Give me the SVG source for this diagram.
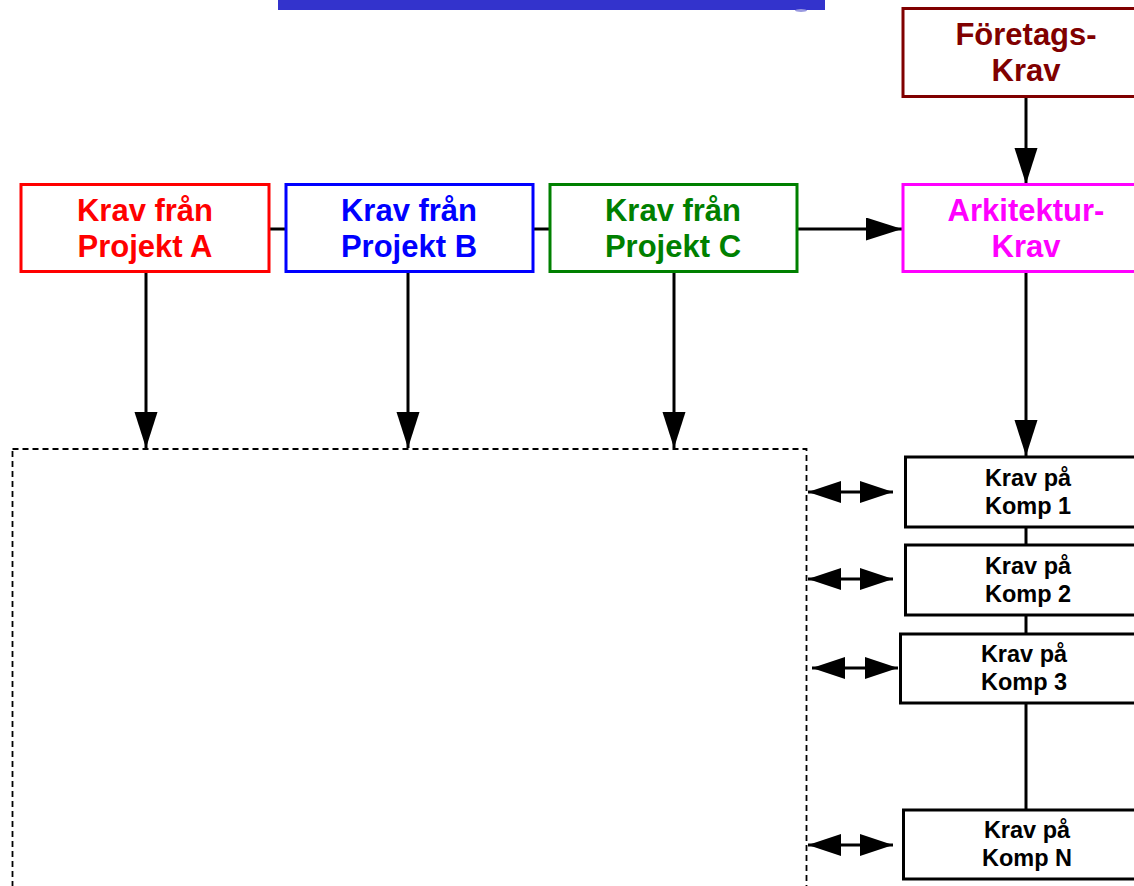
<svg xmlns="http://www.w3.org/2000/svg" width="1134" height="886" viewBox="0 0 1134 886">
  <style>
    .box { fill: #ffffff; stroke-width: 3; }
    .big { font-family: "Liberation Sans", Arial, sans-serif; font-weight: bold; font-size: 31px; text-anchor: middle; }
    .small { font-family: "Liberation Sans", Arial, sans-serif; font-weight: bold; font-size: 23.5px; text-anchor: middle; fill: #000000; }
    .conn { stroke: #000000; stroke-width: 3; fill: none; }
  </style>
  <defs>
    <marker id="head" markerUnits="userSpaceOnUse" markerWidth="40" markerHeight="30" refX="36" refY="11.5" orient="auto">
      <path d="M0,0 L36,11.5 L0,23 Z" fill="#000000"/>
    </marker>
    <marker id="headDbl" markerUnits="userSpaceOnUse" markerWidth="40" markerHeight="30" refX="33" refY="11" orient="auto-start-reverse">
      <path d="M0,0 L33,11 L0,22 Z" fill="#000000"/>
    </marker>
  </defs>

  <rect width="1134" height="886" fill="#ffffff"/>

  <!-- title underline -->
  <rect x="278" y="0" width="547" height="10" fill="#3333cc"/>
  <ellipse cx="801" cy="10.5" rx="6" ry="1.5" fill="#9999e0"/>

  <!-- connectors -->
  <g id="connectors">
    <line class="conn" x1="270" y1="229" x2="285" y2="229"/>
    <line class="conn" x1="533" y1="229" x2="549" y2="229"/>
    <line class="conn" x1="798" y1="229" x2="902" y2="229" marker-end="url(#head)"/>
    <line class="conn" x1="1026" y1="97" x2="1026" y2="184" marker-end="url(#head)"/>
    <line class="conn" x1="146" y1="272" x2="146" y2="448" marker-end="url(#head)"/>
    <line class="conn" x1="408" y1="272" x2="408" y2="448" marker-end="url(#head)"/>
    <line class="conn" x1="674" y1="272" x2="674" y2="448" marker-end="url(#head)"/>
    <line class="conn" x1="1026" y1="272" x2="1026" y2="456" marker-end="url(#head)"/>
    <line class="conn" x1="1026" y1="527" x2="1026" y2="545"/>
    <line class="conn" x1="1026" y1="615" x2="1026" y2="634"/>
    <line class="conn" x1="1026" y1="703" x2="1026" y2="810"/>
    <line class="conn" x1="808" y1="492" x2="893" y2="492" marker-start="url(#headDbl)" marker-end="url(#headDbl)"/>
    <line class="conn" x1="808" y1="579" x2="893" y2="579" marker-start="url(#headDbl)" marker-end="url(#headDbl)"/>
    <line class="conn" x1="812" y1="668" x2="898" y2="668" marker-start="url(#headDbl)" marker-end="url(#headDbl)"/>
    <line class="conn" x1="808" y1="845" x2="893" y2="845" marker-start="url(#headDbl)" marker-end="url(#headDbl)"/>
  </g>

  <!-- dashed region -->
  <g id="region">
    <rect x="12.5" y="449" width="794" height="460" fill="none" stroke="#000000" stroke-width="1.8" stroke-dasharray="6 4"/>
  </g>

  <g id="foretagskrav">
    <rect class="box" x="903" y="8.5" width="250" height="88" stroke="#800000"/>
    <text class="big" x="1026" y="45" fill="#800000">Företags-</text>
    <text class="big" x="1026" y="81" fill="#800000">Krav</text>
  </g>

  <g id="projektA">
    <rect class="box" x="21" y="184.5" width="248" height="87" stroke="#ff0000"/>
    <text class="big" x="145" y="221" fill="#ff0000">Krav från</text>
    <text class="big" x="145" y="257" fill="#ff0000">Projekt A</text>
  </g>

  <g id="projektB">
    <rect class="box" x="286" y="184.5" width="247" height="87" stroke="#0000ff"/>
    <text class="big" x="409" y="221" fill="#0000ff">Krav från</text>
    <text class="big" x="409" y="257" fill="#0000ff">Projekt B</text>
  </g>

  <g id="projektC">
    <rect class="box" x="550" y="184.5" width="247" height="87" stroke="#008000"/>
    <text class="big" x="673" y="221" fill="#008000">Krav från</text>
    <text class="big" x="673" y="257" fill="#008000">Projekt C</text>
  </g>

  <g id="arkitekturkrav">
    <rect class="box" x="903" y="184.5" width="250" height="87" stroke="#ff00ff"/>
    <text class="big" x="1026" y="221" fill="#ff00ff">Arkitektur-</text>
    <text class="big" x="1026" y="257" fill="#ff00ff">Krav</text>
  </g>

  <g id="komp1">
    <rect class="box" x="905.5" y="457" width="250" height="70" stroke="#000000"/>
    <text class="small" x="1028" y="486">Krav på</text>
    <text class="small" x="1028" y="514">Komp 1</text>
  </g>

  <g id="komp2">
    <rect class="box" x="905.5" y="545" width="250" height="70" stroke="#000000"/>
    <text class="small" x="1028" y="574">Krav på</text>
    <text class="small" x="1028" y="602">Komp 2</text>
  </g>

  <g id="komp3">
    <rect class="box" x="900.5" y="634" width="250" height="69" stroke="#000000"/>
    <text class="small" x="1024" y="662">Krav på</text>
    <text class="small" x="1024" y="690">Komp 3</text>
  </g>

  <g id="kompN">
    <rect class="box" x="903.5" y="810" width="250" height="69" stroke="#000000"/>
    <text class="small" x="1027" y="838">Krav på</text>
    <text class="small" x="1027" y="866">Komp N</text>
  </g>
</svg>
